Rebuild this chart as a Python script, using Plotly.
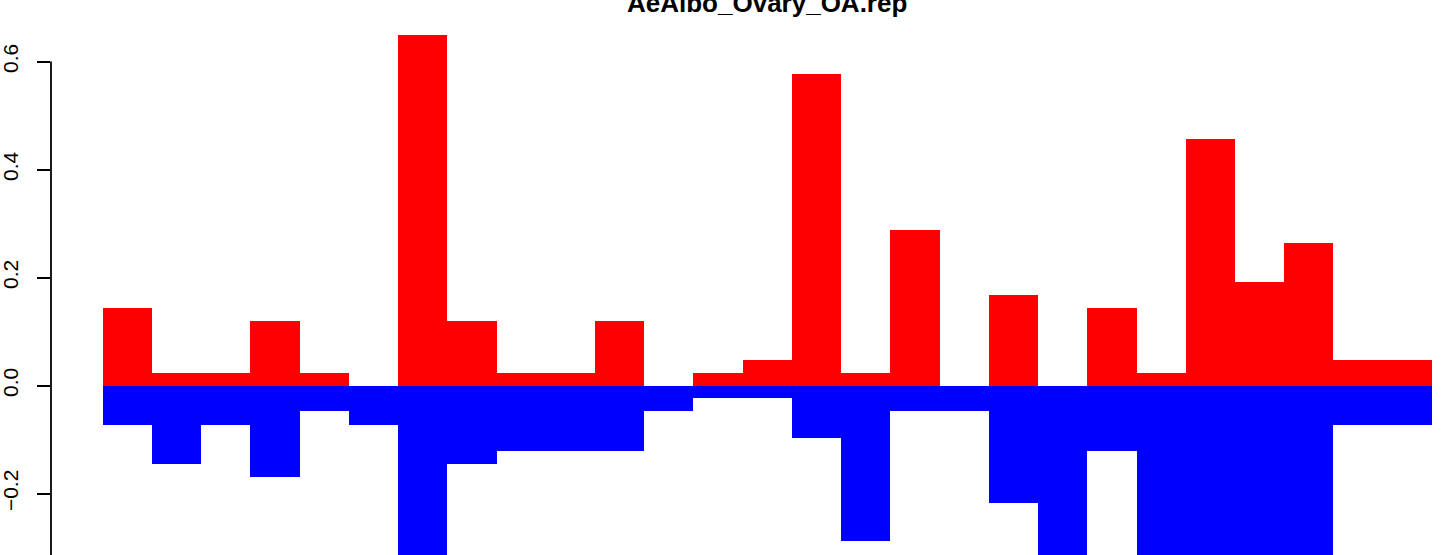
import numpy as np
import plotly.graph_objects as go

title_text = "AeAlbo_Ovary_OA.rep"

pos_values = [0.143, 0.024, 0.024, 0.119, 0.024, 0.0, 0.649, 0.119, 0.024, 0.024,
              0.119, 0.0, 0.024, 0.048, 0.577, 0.024, 0.288, 0.0, 0.168, 0.0,
              0.143, 0.024, 0.456, 0.192, 0.264, 0.048, 0.048]
neg_values = [-0.073, -0.145, -0.073, -0.169, -0.048, -0.073, -0.41, -0.145, -0.121, -0.121,
              -0.121, -0.048, -0.024, -0.024, -0.097, -0.288, -0.048, -0.048, -0.218, -0.34,
              -0.121, -0.36, -0.41, -0.34, -0.39, -0.073, -0.073]
y_tick_vals = [-0.4, -0.2, 0.0, 0.2, 0.4, 0.6]
y_tick_text = ["\u22120.4", "\u22120.2", "0.0", "0.2", "0.4", "0.6"]

n = len(pos_values)
x_centers = np.arange(n) + 0.5

fig = go.Figure()
fig.add_trace(go.Bar(x=x_centers, y=pos_values, width=1.0,
                     marker=dict(color="#FF0000", line=dict(width=0))))
fig.add_trace(go.Bar(x=x_centers, y=neg_values, width=1.0,
                     marker=dict(color="#0000FF", line=dict(width=0))))

W, H = 1441, 555
left = 51
bar_px = 49.23
x0 = -(102.7 - left) / bar_px
x1 = x0 + (W - left) / bar_px
zero_px = 385.5
unit_px = 540.0
y_top = zero_px / unit_px
y_bot = -(H - zero_px) / unit_px

fig.update_layout(
    width=W, height=H,
    margin=dict(l=left, r=0, t=0, b=0, pad=0),
    paper_bgcolor="white", plot_bgcolor="white",
    barmode="overlay", bargap=0, showlegend=False,
    font=dict(family="Liberation Sans, Arial, sans-serif", color="black"),
    xaxis=dict(range=[x0, x1], visible=False, fixedrange=True),
    yaxis=dict(range=[y_bot, y_top], tickmode="array", tickvals=y_tick_vals,
               ticktext=y_tick_text, tickangle=-90, ticks="outside", ticklen=13,
               tickwidth=1.8, tickcolor="black", showline=False, showgrid=False,
               zeroline=False, tickfont=dict(size=21, color="black"),
               ticklabelstandoff=11),
    shapes=[dict(type="line", xref="paper", yref="y", x0=0, x1=0,
                 y0=-0.4, y1=0.6, line=dict(color="black", width=1.8))],
    annotations=[dict(text="<b>" + title_text + "</b>", xref="paper", yref="paper",
                      x=(102.7 + 1432 - 2 * left) / 2 / (W - left), y=1,
                      xanchor="center", yanchor="middle", showarrow=False,
                      yshift=-3, font=dict(size=26, color="black",
                                           family="Liberation Sans, Arial, sans-serif"))],
)

fig.write_html("out.html", config={"displayModeBar": False},
               post_script="document.body.style.margin='0';document.body.style.overflow='hidden';")
